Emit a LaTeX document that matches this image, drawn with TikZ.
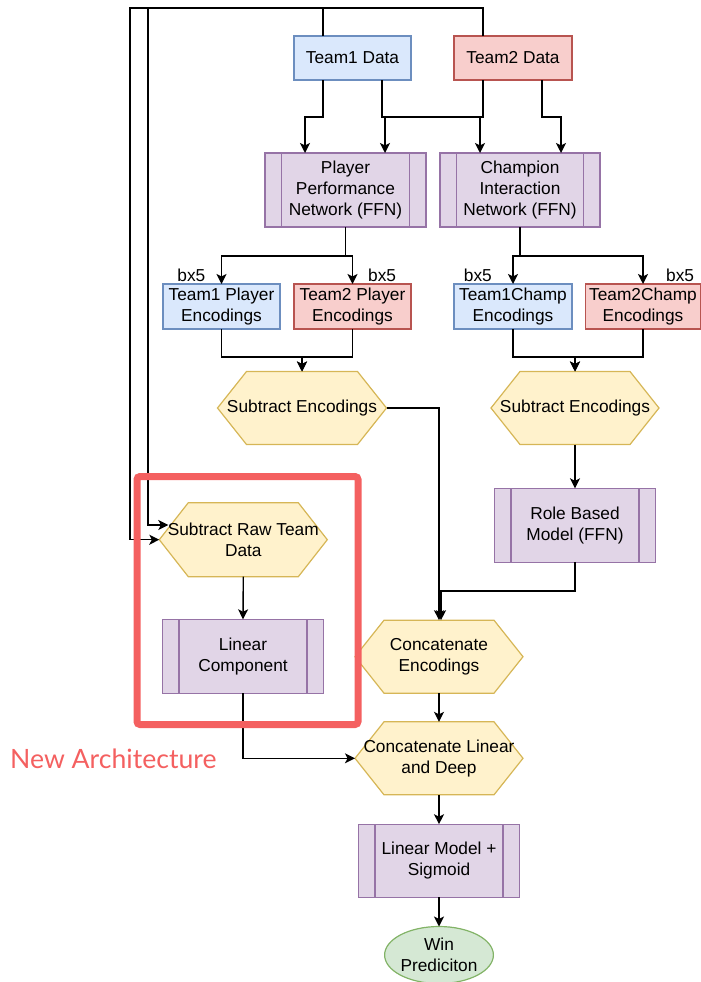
\documentclass[tikz,border=0pt]{standalone}
\usepackage{fontspec}
\setmainfont{Liberation Sans}
\newfontfamily\archfont{Lato}
\usetikzlibrary{arrows.meta,shapes.geometric,backgrounds}
\definecolor{blueFill}{HTML}{DAE8FC}
\definecolor{blueLine}{HTML}{6C8EBF}
\definecolor{redFill}{HTML}{F8CECC}
\definecolor{redLine}{HTML}{B85450}
\definecolor{ffnFill}{HTML}{E1D5E7}
\definecolor{ffnLine}{HTML}{9673A6}
\definecolor{hexFill}{HTML}{FFF2CC}
\definecolor{hexLine}{HTML}{D6B656}
\definecolor{winFill}{HTML}{D5E8D4}
\definecolor{winLine}{HTML}{82B366}
\definecolor{archRed}{RGB}{244,96,96}

\tikzset{
  box/.style={draw, line width=1.2pt, outer sep=0pt, inner sep=0pt, align=center},
  teamone/.style={box, draw=blueLine, fill=blueFill},
  teamtwo/.style={box, draw=redLine, fill=redFill},
  ffn/.style={box, draw=ffnLine, fill=ffnFill, minimum width=161pt, minimum height=74pt,
    path picture={\draw[ffnLine, line width=1.2pt]
      ([xshift=16.5pt]path picture bounding box.north west) -- ([xshift=16.5pt]path picture bounding box.south west)
      ([xshift=-16.5pt]path picture bounding box.north east) -- ([xshift=-16.5pt]path picture bounding box.south east);}},
  hexbox/.style={outer sep=0pt, inner sep=0pt, align=center, minimum width=168pt, minimum height=73pt},
  hexshape/.style={draw=hexLine, fill=hexFill, line width=1.2pt},
  arr/.style={-{Stealth[length=10pt,width=10pt,inset=2.5pt]}, line width=1.4pt},
  bx/.style={inner sep=0pt}
}

\begin{document}
\begin{tikzpicture}[x=1pt, y=-1pt, font=\fontsize{17.3}{20.8}\selectfont]
\useasboundingbox (0,0) rectangle (701,982);

% inputs and networks
\node[teamone, minimum width=117pt, minimum height=44pt] (team1) at (352.5,58) {Team1 Data};
\node[teamtwo, minimum width=118pt, minimum height=44pt] (team2) at (513,58) {Team2 Data};
\node[ffn] (perf) at (345.5,190) {Player\\Performance\\Network (FFN)};
\node[ffn, minimum width=160pt] (champ) at (520,190) {Champion\\Interaction\\Network (FFN)};

% encodings
\node[teamone, minimum width=117pt, minimum height=45pt] (enc1p) at (221.5,306.5) {Team1 Player\\Encodings};
\node[teamtwo, minimum width=117pt, minimum height=45pt] (enc2p) at (352.5,306.5) {Team2 Player\\Encodings};
\node[teamone, minimum width=118pt, minimum height=45pt] (enc1c) at (513,306.5) {Team1Champ\\Encodings};
\node[teamtwo, minimum width=115pt, minimum height=45pt] (enc2c) at (643,306.5) {Team2Champ\\Encodings};
\node[bx, anchor=south east] (bx1p) at ([shift={(-16,-2.5)}]enc1p.north) {bx5};
\node[bx, anchor=south west] (bx2p) at ([shift={(15.5,-2.5)}]enc2p.north) {bx5};
\node[bx, anchor=south east] (bx1c) at ([shift={(-21,-2.5)}]enc1c.north) {bx5};
\node[bx, anchor=south west] (bx2c) at ([shift={(23,-2.5)}]enc2c.north) {bx5};

% combining steps
\node[hexbox, minimum width=169pt] (subp) at (302,408) {Subtract Encodings};
\node[hexbox] (subc) at (575,408) {Subtract Encodings};
\node[ffn] (role) at (575,525.3) {Role Based\\Model (FFN)};
\node[hexbox, minimum height=74pt] (raw) at (243.3,539.7) {Subtract Raw Team\\Data};
\node[ffn] (lin) at (243,656.3) {Linear\\Component};
\node[hexbox] (cat) at (439,656.7) {Concatenate\\Encodings};
\node[hexbox] (catld) at (439,758.3) {Concatenate Linear\\and Deep};
\node[ffn, minimum height=73pt] (linsig) at (439,860.7) {Linear Model +\\Sigmoid};
\node[ellipse, draw=winLine, fill=winFill, line width=1.2pt, minimum width=108pt, minimum height=57pt,
  inner sep=0pt, outer sep=0pt, align=center] (win) at (439,955) {Win\\Prediciton};

\begin{scope}[on background layer]
\foreach \h in {subp,subc,raw,cat,catld}
  \draw[hexshape] (\h.west) -- ([xshift=29pt]\h.north west) -- ([xshift=-29pt]\h.north east)
    -- (\h.east) -- ([xshift=-29pt]\h.south east) -- ([xshift=29pt]\h.south west) -- cycle;
\end{scope}

% connectors
\draw[arr] ([xshift=-29.5]team1.south) -- ++(0,37) -| ([xshift=-40.5]perf.north);
\draw[arr] ([xshift=29.5]team1.south) -- ++(0,37) -| ([xshift=-40]champ.north);
\draw[arr] ([xshift=-30]team2.south) -- ++(0,37) -| ([xshift=39.5]perf.north);
\draw[arr] ([xshift=29]team2.south) -- ++(0,37) -| ([xshift=41]champ.north);

\coordinate (laneA) at (148,8);
\coordinate (laneB) at (130,8);
\coordinate (rawin) at ([shift={(9,-14.7)}]raw.west);
\draw[arr] ([xshift=-29.5]team1.north) |- (laneA) |- (rawin);
\draw[arr] ([xshift=-30]team2.north) |- (laneB) |- (raw.west);

\draw[arr] (perf.south) -- ++(0,29) -| (enc1p.north);
\draw[arr] (perf.south) -- ++(0,29) -| (enc2p.north);
\draw[arr] (champ.south) -- ++(0,29) -| (enc1c.north);
\draw[arr] (champ.south) -- ++(0,29) -| (enc2c.north);
\draw[arr] (enc1p.south) |- ([yshift=14.5pt]subp.north) -- (subp.north);
\draw[arr] (enc2p.south) |- ([yshift=14.5pt]subp.north) -- (subp.north);
\draw[arr] (enc1c.south) |- ([yshift=14.5pt]subc.north) -- (subc.north);
\draw[arr] (enc2c.south) |- ([yshift=14.5pt]subc.north) -- (subc.north);

\draw[arr] (subp.east) -| (cat.north);
\draw[arr] (subc.south) -- (role.north);
\draw[arr] (role.south) -- ++(0,28.5) -| ([xshift=2]cat.north);
\draw[arr] (raw.south) -- (lin.north);
\draw[arr] (lin.south) |- (catld.west);
\draw[arr] (cat.south) -- (catld.north);
\draw[arr] (catld.south) -- (linsig.north);
\draw[arr] (linsig.south) -- (win.north);

% new part
\draw[archRed, line width=7pt, rounded corners=3pt] (137,476.5) rectangle (358,724.5);
\node[anchor=base west, text=archRed, font=\archfont\fontsize{26.6}{30}\selectfont, inner sep=0pt] (archlabel) at (10,768) {New Architecture};
\end{tikzpicture}
\end{document}
